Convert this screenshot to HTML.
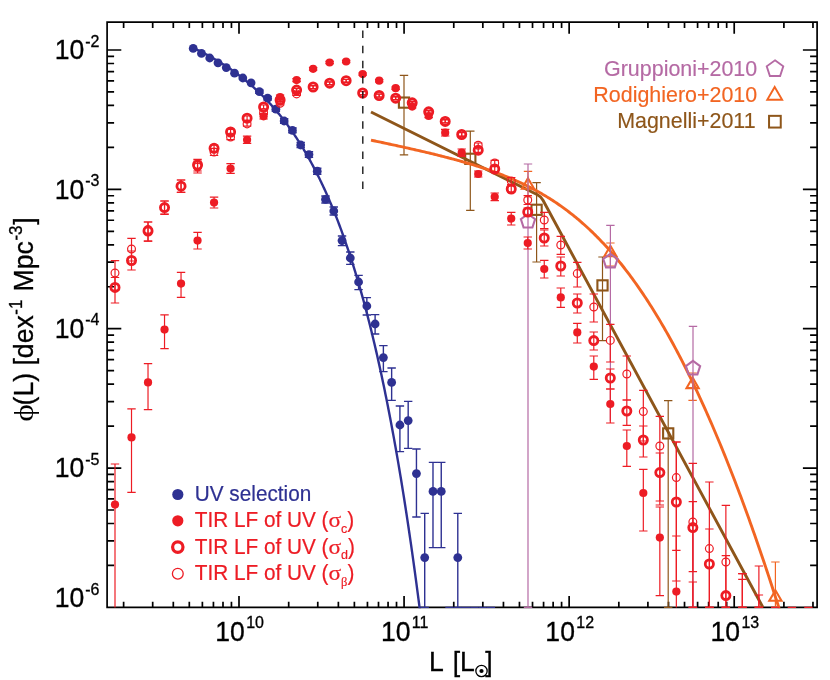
<!DOCTYPE html>
<html><head><meta charset="utf-8"><title>LF</title><style>html,body{margin:0;padding:0;background:#fff}body{width:830px;height:680px;overflow:hidden}</style></head><body>
<svg width="830" height="680" viewBox="0 0 830 680" style="display:block;will-change:transform;font-family:'Liberation Sans',sans-serif">
<rect width="830" height="680" fill="#fff"/>
<defs><clipPath id="c"><rect x="107.1" y="22.2" width="710.0" height="585.9499999999999"/></clipPath></defs>
<path d="M107.1 22.2H817.1V607.4H107.1Z" fill="none" stroke="#000" stroke-width="1.7"/>
<path d="M123.62 22.2v5.7M123.62 607.4v-5.7M152.69 22.2v5.7M152.69 607.4v-5.7M173.31 22.2v5.7M173.31 607.4v-5.7M189.31 22.2v5.7M189.31 607.4v-5.7M202.38 22.2v5.7M202.38 607.4v-5.7M213.43 22.2v5.7M213.43 607.4v-5.7M223.00 22.2v5.7M223.00 607.4v-5.7M231.45 22.2v5.7M231.45 607.4v-5.7M239.00 22.2v11.5M239.00 607.4v-11.5M288.69 22.2v5.7M288.69 607.4v-5.7M317.76 22.2v5.7M317.76 607.4v-5.7M338.38 22.2v5.7M338.38 607.4v-5.7M354.38 22.2v5.7M354.38 607.4v-5.7M367.45 22.2v5.7M367.45 607.4v-5.7M378.50 22.2v5.7M378.50 607.4v-5.7M388.07 22.2v5.7M388.07 607.4v-5.7M396.52 22.2v5.7M396.52 607.4v-5.7M404.07 22.2v11.5M404.07 607.4v-11.5M453.76 22.2v5.7M453.76 607.4v-5.7M482.83 22.2v5.7M482.83 607.4v-5.7M503.45 22.2v5.7M503.45 607.4v-5.7M519.45 22.2v5.7M519.45 607.4v-5.7M532.52 22.2v5.7M532.52 607.4v-5.7M543.57 22.2v5.7M543.57 607.4v-5.7M553.14 22.2v5.7M553.14 607.4v-5.7M561.59 22.2v5.7M561.59 607.4v-5.7M569.14 22.2v11.5M569.14 607.4v-11.5M618.83 22.2v5.7M618.83 607.4v-5.7M647.90 22.2v5.7M647.90 607.4v-5.7M668.52 22.2v5.7M668.52 607.4v-5.7M684.52 22.2v5.7M684.52 607.4v-5.7M697.59 22.2v5.7M697.59 607.4v-5.7M708.64 22.2v5.7M708.64 607.4v-5.7M718.21 22.2v5.7M718.21 607.4v-5.7M726.66 22.2v5.7M726.66 607.4v-5.7M734.21 22.2v11.5M734.21 607.4v-11.5M783.90 22.2v5.7M783.90 607.4v-5.7M812.97 22.2v5.7M812.97 607.4v-5.7M107.1 565.45h7.0M817.1 565.45h-7.0M107.1 540.91h7.0M817.1 540.91h-7.0M107.1 523.50h7.0M817.1 523.50h-7.0M107.1 510.00h7.0M817.1 510.00h-7.0M107.1 498.96h7.0M817.1 498.96h-7.0M107.1 489.64h7.0M817.1 489.64h-7.0M107.1 481.55h7.0M817.1 481.55h-7.0M107.1 474.43h7.0M817.1 474.43h-7.0M107.1 468.05h14.2M817.1 468.05h-14.2M107.1 426.10h7.0M817.1 426.10h-7.0M107.1 401.56h7.0M817.1 401.56h-7.0M107.1 384.15h7.0M817.1 384.15h-7.0M107.1 370.65h7.0M817.1 370.65h-7.0M107.1 359.61h7.0M817.1 359.61h-7.0M107.1 350.29h7.0M817.1 350.29h-7.0M107.1 342.20h7.0M817.1 342.20h-7.0M107.1 335.08h7.0M817.1 335.08h-7.0M107.1 328.70h14.2M817.1 328.70h-14.2M107.1 286.75h7.0M817.1 286.75h-7.0M107.1 262.21h7.0M817.1 262.21h-7.0M107.1 244.80h7.0M817.1 244.80h-7.0M107.1 231.30h7.0M817.1 231.30h-7.0M107.1 220.26h7.0M817.1 220.26h-7.0M107.1 210.94h7.0M817.1 210.94h-7.0M107.1 202.85h7.0M817.1 202.85h-7.0M107.1 195.73h7.0M817.1 195.73h-7.0M107.1 189.35h14.2M817.1 189.35h-14.2M107.1 147.40h7.0M817.1 147.40h-7.0M107.1 122.86h7.0M817.1 122.86h-7.0M107.1 105.45h7.0M817.1 105.45h-7.0M107.1 91.95h7.0M817.1 91.95h-7.0M107.1 80.91h7.0M817.1 80.91h-7.0M107.1 71.59h7.0M817.1 71.59h-7.0M107.1 63.50h7.0M817.1 63.50h-7.0M107.1 56.38h7.0M817.1 56.38h-7.0M107.1 50.00h14.2M817.1 50.00h-14.2" stroke="#000" stroke-width="1.7" fill="none"/>
<g clip-path="url(#c)">
<path d="M259.35 90.00V93.20M255.15 90.00H263.55M255.15 93.20H263.55" stroke="#2e3192" stroke-width="1.4" fill="none"/>
<path d="M267.62 96.40V100.00M263.42 96.40H271.82M263.42 100.00H271.82" stroke="#2e3192" stroke-width="1.4" fill="none"/>
<path d="M275.88 107.20V111.20M271.69 107.20H280.08M271.69 111.20H280.08" stroke="#2e3192" stroke-width="1.4" fill="none"/>
<path d="M284.15 118.80V123.20M279.95 118.80H288.35M279.95 123.20H288.35" stroke="#2e3192" stroke-width="1.4" fill="none"/>
<path d="M292.42 128.00V132.80M288.22 128.00H296.62M288.22 132.80H296.62" stroke="#2e3192" stroke-width="1.4" fill="none"/>
<path d="M300.69 142.40V147.60M296.49 142.40H304.89M296.49 147.60H304.89" stroke="#2e3192" stroke-width="1.4" fill="none"/>
<path d="M308.96 151.80V157.40M304.76 151.80H313.16M304.76 157.40H313.16" stroke="#2e3192" stroke-width="1.4" fill="none"/>
<path d="M317.23 168.20V174.20M313.03 168.20H321.43M313.03 174.20H321.43" stroke="#2e3192" stroke-width="1.4" fill="none"/>
<path d="M325.50 196.00V203.00M321.30 196.00H329.70M321.30 203.00H329.70" stroke="#2e3192" stroke-width="1.4" fill="none"/>
<path d="M333.76 207.00V215.00M329.56 207.00H337.96M329.56 215.00H337.96" stroke="#2e3192" stroke-width="1.4" fill="none"/>
<path d="M342.03 236.00V245.60M337.83 236.00H346.23M337.83 245.60H346.23" stroke="#2e3192" stroke-width="1.4" fill="none"/>
<path d="M350.30 252.00V264.40M346.10 252.00H354.50M346.10 264.40H354.50" stroke="#2e3192" stroke-width="1.4" fill="none"/>
<path d="M358.57 275.40V289.60M354.37 275.40H362.77M354.37 289.60H362.77" stroke="#2e3192" stroke-width="1.4" fill="none"/>
<path d="M366.84 297.60V315.00M362.64 297.60H371.04M362.64 315.00H371.04" stroke="#2e3192" stroke-width="1.4" fill="none"/>
<path d="M375.11 314.60V334.00M370.91 314.60H379.31M370.91 334.00H379.31" stroke="#2e3192" stroke-width="1.4" fill="none"/>
<path d="M383.38 345.60V371.60M379.18 345.60H387.58M379.18 371.60H387.58" stroke="#2e3192" stroke-width="1.4" fill="none"/>
<path d="M391.64 368.00V400.40M387.44 368.00H395.84M387.44 400.40H395.84" stroke="#2e3192" stroke-width="1.4" fill="none"/>
<path d="M399.91 406.00V451.60M395.71 406.00H404.11M395.71 451.60H404.11" stroke="#2e3192" stroke-width="1.4" fill="none"/>
<path d="M408.18 401.40V448.40M403.98 401.40H412.38M403.98 448.40H412.38" stroke="#2e3192" stroke-width="1.4" fill="none"/>
<path d="M416.45 449.00V517.00M412.25 449.00H420.65M412.25 517.00H420.65" stroke="#2e3192" stroke-width="1.4" fill="none"/>
<path d="M424.72 513.40V607.40M420.52 513.40H428.92M420.52 607.40H428.92" stroke="#2e3192" stroke-width="1.4" fill="none"/>
<path d="M432.99 462.40V547.60M428.79 462.40H437.19M428.79 547.60H437.19" stroke="#2e3192" stroke-width="1.4" fill="none"/>
<path d="M441.25 462.40V547.60M437.06 462.40H445.45M437.06 547.60H445.45" stroke="#2e3192" stroke-width="1.4" fill="none"/>
<path d="M449.52 607.40V607.40M445.32 607.40H453.72" stroke="#2e3192" stroke-width="1.4" fill="none"/>
<path d="M457.79 513.40V607.40M453.59 513.40H461.99M453.59 607.40H461.99" stroke="#2e3192" stroke-width="1.4" fill="none"/>
<path d="M466.06 607.40V607.40M461.86 607.40H470.26" stroke="#2e3192" stroke-width="1.4" fill="none"/>
<path d="M474.33 607.40V607.40M470.13 607.40H478.53" stroke="#2e3192" stroke-width="1.4" fill="none"/>
<path d="M482.60 607.40V607.40M478.40 607.40H486.80" stroke="#2e3192" stroke-width="1.4" fill="none"/>
<path d="M490.87 607.40V607.40M486.67 607.40H495.07" stroke="#2e3192" stroke-width="1.4" fill="none"/>
<circle cx="193.20" cy="48.4" r="4.4" fill="#2e3192"/>
<circle cx="201.47" cy="53.4" r="4.4" fill="#2e3192"/>
<circle cx="209.74" cy="58" r="4.4" fill="#2e3192"/>
<circle cx="218.01" cy="62.8" r="4.4" fill="#2e3192"/>
<circle cx="226.27" cy="67.6" r="4.4" fill="#2e3192"/>
<circle cx="234.54" cy="73.2" r="4.4" fill="#2e3192"/>
<circle cx="242.81" cy="78" r="4.4" fill="#2e3192"/>
<circle cx="251.08" cy="82.8" r="4.4" fill="#2e3192"/>
<circle cx="259.35" cy="91.6" r="4.4" fill="#2e3192"/>
<circle cx="267.62" cy="98.2" r="4.4" fill="#2e3192"/>
<circle cx="275.88" cy="109.2" r="4.4" fill="#2e3192"/>
<circle cx="284.15" cy="121" r="4.4" fill="#2e3192"/>
<circle cx="292.42" cy="130.4" r="4.4" fill="#2e3192"/>
<circle cx="300.69" cy="145" r="4.4" fill="#2e3192"/>
<circle cx="308.96" cy="154.6" r="4.4" fill="#2e3192"/>
<circle cx="317.23" cy="171.2" r="4.4" fill="#2e3192"/>
<circle cx="325.50" cy="199.4" r="4.4" fill="#2e3192"/>
<circle cx="333.76" cy="211" r="4.4" fill="#2e3192"/>
<circle cx="342.03" cy="240.6" r="4.4" fill="#2e3192"/>
<circle cx="350.30" cy="258" r="4.4" fill="#2e3192"/>
<circle cx="358.57" cy="282" r="4.4" fill="#2e3192"/>
<circle cx="366.84" cy="306" r="4.4" fill="#2e3192"/>
<circle cx="375.11" cy="324" r="4.4" fill="#2e3192"/>
<circle cx="383.38" cy="357.6" r="4.4" fill="#2e3192"/>
<circle cx="391.64" cy="382.4" r="4.4" fill="#2e3192"/>
<circle cx="399.91" cy="425" r="4.4" fill="#2e3192"/>
<circle cx="408.18" cy="420.6" r="4.4" fill="#2e3192"/>
<circle cx="416.45" cy="473.6" r="4.4" fill="#2e3192"/>
<circle cx="424.72" cy="557.6" r="4.4" fill="#2e3192"/>
<circle cx="432.99" cy="491.4" r="4.4" fill="#2e3192"/>
<circle cx="441.25" cy="491.4" r="4.4" fill="#2e3192"/>
<circle cx="457.79" cy="557.6" r="4.4" fill="#2e3192"/>
<path d="M193.20 47.93 L193.98 48.29 L194.75 48.65 L195.53 49.02 L196.30 49.39 L197.08 49.77 L197.85 50.14 L198.63 50.52 L199.40 50.90 L200.18 51.29 L200.95 51.68 L201.73 52.07 L202.50 52.46 L203.28 52.86 L204.05 53.26 L204.83 53.67 L205.60 54.07 L206.38 54.48 L207.15 54.90 L207.93 55.31 L208.71 55.73 L209.48 56.16 L210.26 56.59 L211.03 57.02 L211.81 57.45 L212.58 57.89 L213.36 58.33 L214.13 58.78 L214.91 59.22 L215.68 59.68 L216.46 60.13 L217.23 60.59 L218.01 61.06 L218.78 61.53 L219.56 62.00 L220.33 62.47 L221.11 62.95 L221.88 63.44 L222.66 63.93 L223.43 64.42 L224.21 64.91 L224.99 65.41 L225.76 65.92 L226.54 66.43 L227.31 66.94 L228.09 67.46 L228.86 67.98 L229.64 68.51 L230.41 69.04 L231.19 69.58 L231.96 70.12 L232.74 70.66 L233.51 71.22 L234.29 71.77 L235.06 72.33 L235.84 72.90 L236.61 73.47 L237.39 74.04 L238.16 74.62 L238.94 75.21 L239.72 75.80 L240.49 76.39 L241.27 76.99 L242.04 77.60 L242.82 78.21 L243.59 78.83 L244.37 79.45 L245.14 80.08 L245.92 80.72 L246.69 81.36 L247.47 82.00 L248.24 82.65 L249.02 83.31 L249.79 83.97 L250.57 84.64 L251.34 85.32 L252.12 86.00 L252.89 86.69 L253.67 87.38 L254.44 88.08 L255.22 88.79 L256.00 89.51 L256.77 90.23 L257.55 90.95 L258.32 91.69 L259.10 92.43 L259.87 93.18 L260.65 93.93 L261.42 94.69 L262.20 95.46 L262.97 96.24 L263.75 97.02 L264.52 97.81 L265.30 98.61 L266.07 99.41 L266.85 100.23 L267.62 101.05 L268.40 101.88 L269.17 102.71 L269.95 103.56 L270.73 104.41 L271.50 105.27 L272.28 106.14 L273.05 107.02 L273.83 107.90 L274.60 108.80 L275.38 109.70 L276.15 110.61 L276.93 111.53 L277.70 112.46 L278.48 113.39 L279.25 114.34 L280.03 115.30 L280.80 116.26 L281.58 117.24 L282.35 118.22 L283.13 119.21 L283.90 120.21 L284.68 121.23 L285.45 122.25 L286.23 123.28 L287.01 124.32 L287.78 125.38 L288.56 126.44 L289.33 127.51 L290.11 128.60 L290.88 129.69 L291.66 130.80 L292.43 131.91 L293.21 133.04 L293.98 134.18 L294.76 135.33 L295.53 136.49 L296.31 137.66 L297.08 138.84 L297.86 140.04 L298.63 141.24 L299.41 142.46 L300.18 143.69 L300.96 144.94 L301.74 146.19 L302.51 147.46 L303.29 148.74 L304.06 150.03 L304.84 151.34 L305.61 152.66 L306.39 153.99 L307.16 155.34 L307.94 156.70 L308.71 158.07 L309.49 159.46 L310.26 160.86 L311.04 162.27 L311.81 163.70 L312.59 165.14 L313.36 166.60 L314.14 168.07 L314.91 169.56 L315.69 171.06 L316.46 172.58 L317.24 174.11 L318.02 175.66 L318.79 177.23 L319.57 178.81 L320.34 180.40 L321.12 182.01 L321.89 183.64 L322.67 185.29 L323.44 186.95 L324.22 188.63 L324.99 190.32 L325.77 192.03 L326.54 193.76 L327.32 195.51 L328.09 197.28 L328.87 199.06 L329.64 200.86 L330.42 202.68 L331.19 204.52 L331.97 206.38 L332.75 208.25 L333.52 210.15 L334.30 212.07 L335.07 214.00 L335.85 215.96 L336.62 217.93 L337.40 219.92 L338.17 221.94 L338.95 223.98 L339.72 226.03 L340.50 228.11 L341.27 230.21 L342.05 232.33 L342.82 234.48 L343.60 236.64 L344.37 238.83 L345.15 241.04 L345.92 243.27 L346.70 245.53 L347.47 247.81 L348.25 250.11 L349.03 252.44 L349.80 254.79 L350.58 257.17 L351.35 259.57 L352.13 261.99 L352.90 264.44 L353.68 266.92 L354.45 269.42 L355.23 271.95 L356.00 274.50 L356.78 277.08 L357.55 279.69 L358.33 282.32 L359.10 284.98 L359.88 287.67 L360.65 290.39 L361.43 293.14 L362.20 295.91 L362.98 298.72 L363.76 301.55 L364.53 304.41 L365.31 307.30 L366.08 310.23 L366.86 313.18 L367.63 316.16 L368.41 319.18 L369.18 322.22 L369.96 325.30 L370.73 328.41 L371.51 331.56 L372.28 334.73 L373.06 337.94 L373.83 341.19 L374.61 344.47 L375.38 347.78 L376.16 351.13 L376.93 354.51 L377.71 357.93 L378.48 361.38 L379.26 364.87 L380.04 368.40 L380.81 371.96 L381.59 375.56 L382.36 379.20 L383.14 382.88 L383.91 386.59 L384.69 390.35 L385.46 394.14 L386.24 397.98 L387.01 401.86 L387.79 405.77 L388.56 409.73 L389.34 413.73 L390.11 417.77 L390.89 421.86 L391.66 425.98 L392.44 430.16 L393.21 434.37 L393.99 438.63 L394.77 442.94 L395.54 447.29 L396.32 451.69 L397.09 456.13 L397.87 460.62 L398.64 465.16 L399.42 469.75 L400.19 474.38 L400.97 479.06 L401.74 483.80 L402.52 488.58 L403.29 493.42 L404.07 498.30 L404.84 503.24 L405.62 508.23 L406.39 513.28 L407.17 518.37 L407.94 523.52 L408.72 528.73 L409.49 533.99 L410.27 539.31 L411.05 544.68 L411.82 550.11 L412.60 555.60 L413.37 561.15 L414.15 566.76 L414.92 572.42 L415.70 578.15 L416.47 583.94 L417.25 589.79 L418.02 595.70 L418.80 601.67 L419.57 607.71 L420.35 613.81 L421.12 619.98 L421.90 626.21 L422.67 632.51" fill="none" stroke="#2e3192" stroke-width="2.4" stroke-linejoin="round"/>
<path d="M371 112 L537.5 194.8 Q541 196.6 543 200.2 L763 607.5" fill="none" stroke="#8e561a" stroke-width="2.9" stroke-linejoin="round"/>
<path d="M404.00 75.30V154.80M399.80 75.30H408.20M399.80 154.80H408.20" stroke="#8e561a" stroke-width="1.2" fill="none"/>
<rect x="398.90" y="97.50" width="10.2" height="10.2" fill="none" stroke="#8e561a" stroke-width="2.1"/>
<path d="M470.30 131.20V210.40M466.10 131.20H474.50M466.10 210.40H474.50" stroke="#8e561a" stroke-width="1.2" fill="none"/>
<rect x="465.20" y="153.70" width="10.2" height="10.2" fill="none" stroke="#8e561a" stroke-width="2.1"/>
<path d="M536.60 182.60V262.00M532.40 182.60H540.80M532.40 262.00H540.80" stroke="#8e561a" stroke-width="1.2" fill="none"/>
<rect x="531.50" y="204.70" width="10.2" height="10.2" fill="none" stroke="#8e561a" stroke-width="2.1"/>
<path d="M602.50 257.00V340.60M598.30 257.00H606.70M598.30 340.60H606.70" stroke="#8e561a" stroke-width="1.2" fill="none"/>
<rect x="597.40" y="280.30" width="10.2" height="10.2" fill="none" stroke="#8e561a" stroke-width="2.1"/>
<path d="M668.20 400.60V607.40M664.00 400.60H672.40M664.00 607.40H672.40" stroke="#8e561a" stroke-width="1.2" fill="none"/>
<rect x="663.10" y="428.30" width="10.2" height="10.2" fill="none" stroke="#8e561a" stroke-width="2.1"/>
<path d="M371.00 140.17 L372.37 140.46 L373.75 140.75 L375.12 141.04 L376.50 141.33 L377.87 141.62 L379.25 141.91 L380.62 142.20 L382.00 142.49 L383.37 142.79 L384.75 143.08 L386.12 143.37 L387.49 143.67 L388.87 143.96 L390.24 144.26 L391.62 144.55 L392.99 144.85 L394.37 145.15 L395.74 145.45 L397.12 145.75 L398.49 146.05 L399.87 146.35 L401.24 146.65 L402.62 146.95 L403.99 147.26 L405.36 147.56 L406.74 147.87 L408.11 148.18 L409.49 148.49 L410.86 148.80 L412.24 149.11 L413.61 149.42 L414.99 149.73 L416.36 150.05 L417.74 150.36 L419.11 150.68 L420.48 151.00 L421.86 151.32 L423.23 151.64 L424.61 151.96 L425.98 152.29 L427.36 152.62 L428.73 152.94 L430.11 153.27 L431.48 153.61 L432.86 153.94 L434.23 154.28 L435.61 154.61 L436.98 154.95 L438.35 155.30 L439.73 155.64 L441.10 155.99 L442.48 156.33 L443.85 156.68 L445.23 157.04 L446.60 157.39 L447.98 157.75 L449.35 158.11 L450.73 158.48 L452.10 158.84 L453.47 159.21 L454.85 159.58 L456.22 159.96 L457.60 160.34 L458.97 160.72 L460.35 161.10 L461.72 161.49 L463.10 161.88 L464.47 162.28 L465.85 162.68 L467.22 163.08 L468.60 163.49 L469.97 163.90 L471.34 164.31 L472.72 164.73 L474.09 165.15 L475.47 165.58 L476.84 166.01 L478.22 166.44 L479.59 166.89 L480.97 167.33 L482.34 167.78 L483.72 168.23 L485.09 168.69 L486.46 169.16 L487.84 169.63 L489.21 170.11 L490.59 170.59 L491.96 171.08 L493.34 171.57 L494.71 172.07 L496.09 172.57 L497.46 173.08 L498.84 173.60 L500.21 174.13 L501.59 174.66 L502.96 175.19 L504.33 175.74 L505.71 176.29 L507.08 176.85 L508.46 177.42 L509.83 177.99 L511.21 178.57 L512.58 179.16 L513.96 179.76 L515.33 180.36 L516.71 180.97 L518.08 181.60 L519.45 182.23 L520.83 182.86 L522.20 183.51 L523.58 184.17 L524.95 184.84 L526.33 185.51 L527.70 186.20 L529.08 186.89 L530.45 187.59 L531.83 188.31 L533.20 189.03 L534.58 189.77 L535.95 190.51 L537.32 191.27 L538.70 192.04 L540.07 192.81 L541.45 193.60 L542.82 194.40 L544.20 195.21 L545.57 196.04 L546.95 196.87 L548.32 197.72 L549.70 198.58 L551.07 199.45 L552.44 200.33 L553.82 201.23 L555.19 202.14 L556.57 203.06 L557.94 204.00 L559.32 204.95 L560.69 205.91 L562.07 206.89 L563.44 207.88 L564.82 208.88 L566.19 209.90 L567.57 210.93 L568.94 211.98 L570.31 213.04 L571.69 214.12 L573.06 215.21 L574.44 216.32 L575.81 217.44 L577.19 218.58 L578.56 219.73 L579.94 220.90 L581.31 222.09 L582.69 223.29 L584.06 224.50 L585.43 225.74 L586.81 226.99 L588.18 228.25 L589.56 229.54 L590.93 230.84 L592.31 232.16 L593.68 233.49 L595.06 234.85 L596.43 236.22 L597.81 237.60 L599.18 239.01 L600.56 240.43 L601.93 241.88 L603.30 243.34 L604.68 244.81 L606.05 246.31 L607.43 247.83 L608.80 249.36 L610.18 250.91 L611.55 252.49 L612.93 254.08 L614.30 255.69 L615.68 257.32 L617.05 258.97 L618.42 260.64 L619.80 262.33 L621.17 264.03 L622.55 265.76 L623.92 267.51 L625.30 269.28 L626.67 271.07 L628.05 272.88 L629.42 274.71 L630.80 276.56 L632.17 278.43 L633.55 280.32 L634.92 282.23 L636.29 284.16 L637.67 286.12 L639.04 288.09 L640.42 290.09 L641.79 292.10 L643.17 294.14 L644.54 296.20 L645.92 298.28 L647.29 300.39 L648.67 302.51 L650.04 304.66 L651.41 306.83 L652.79 309.02 L654.16 311.23 L655.54 313.46 L656.91 315.72 L658.29 317.99 L659.66 320.29 L661.04 322.62 L662.41 324.96 L663.79 327.33 L665.16 329.72 L666.54 332.13 L667.91 334.56 L669.28 337.02 L670.66 339.50 L672.03 342.00 L673.41 344.52 L674.78 347.07 L676.16 349.64 L677.53 352.23 L678.91 354.85 L680.28 357.48 L681.66 360.14 L683.03 362.83 L684.40 365.53 L685.78 368.26 L687.15 371.02 L688.53 373.79 L689.90 376.59 L691.28 379.41 L692.65 382.26 L694.03 385.13 L695.40 388.02 L696.78 390.94 L698.15 393.87 L699.53 396.83 L700.90 399.82 L702.27 402.83 L703.65 405.86 L705.02 408.91 L706.40 411.99 L707.77 415.09 L709.15 418.22 L710.52 421.37 L711.90 424.54 L713.27 427.74 L714.65 430.95 L716.02 434.20 L717.39 437.46 L718.77 440.75 L720.14 444.07 L721.52 447.40 L722.89 450.76 L724.27 454.15 L725.64 457.55 L727.02 460.98 L728.39 464.44 L729.77 467.92 L731.14 471.42 L732.52 474.94 L733.89 478.49 L735.26 482.07 L736.64 485.66 L738.01 489.28 L739.39 492.92 L740.76 496.59 L742.14 500.28 L743.51 504.00 L744.89 507.74 L746.26 511.50 L747.64 515.28 L749.01 519.09 L750.38 522.92 L751.76 526.78 L753.13 530.66 L754.51 534.56 L755.88 538.49 L757.26 542.44 L758.63 546.42 L760.01 550.41 L761.38 554.44 L762.76 558.48 L764.13 562.55 L765.51 566.64 L766.88 570.76 L768.25 574.90 L769.63 579.06 L771.00 583.25 L772.38 587.46 L773.75 591.70 L775.13 595.95 L776.50 600.24 L777.88 604.54 L779.25 608.87 L780.63 613.22 L782.00 617.60" fill="none" stroke="#f26522" stroke-width="2.9" stroke-linejoin="round"/>
<path d="M528.00 171.40V197.00M523.80 171.40H532.20M523.80 197.00H532.20" stroke="#f26522" stroke-width="1.2" fill="none"/>
<polygon points="528.00,178.16 534.10,188.72 521.90,188.72" fill="none" stroke="#f26522" stroke-width="2.1"/>
<path d="M610.40 243.00V266.00M606.20 243.00H614.60M606.20 266.00H614.60" stroke="#f26522" stroke-width="1.2" fill="none"/>
<polygon points="610.40,245.76 616.50,256.32 604.30,256.32" fill="none" stroke="#f26522" stroke-width="2.1"/>
<path d="M692.60 373.00V400.40M688.40 373.00H696.80M688.40 400.40H696.80" stroke="#f26522" stroke-width="1.2" fill="none"/>
<polygon points="692.60,377.56 698.70,388.12 686.50,388.12" fill="none" stroke="#f26522" stroke-width="2.1"/>
<path d="M775.40 562.00V607.40M771.20 562.00H779.60M771.20 607.40H779.60" stroke="#f26522" stroke-width="1.2" fill="none"/>
<polygon points="775.40,590.26 781.50,600.82 769.30,600.82" fill="none" stroke="#f26522" stroke-width="2.1"/>
<path d="M528.00 164.00V607.40M523.80 164.00H532.20M523.80 607.40H532.20" stroke="#b56aa4" stroke-width="1.2" fill="none"/>
<polygon points="528.00,214.00 535.13,219.18 532.41,227.57 523.59,227.57 520.87,219.18" fill="none" stroke="#b56aa4" stroke-width="2.1" stroke-linejoin="miter"/>
<path d="M610.40 225.30V421.00M606.20 225.30H614.60" stroke="#b56aa4" stroke-width="1.2" fill="none"/>
<polygon points="610.40,253.80 617.53,258.98 614.81,267.37 605.99,267.37 603.27,258.98" fill="none" stroke="#b56aa4" stroke-width="2.1" stroke-linejoin="miter"/>
<path d="M693.00 326.40V607.40M688.80 326.40H697.20M688.80 607.40H697.20" stroke="#b56aa4" stroke-width="1.2" fill="none"/>
<polygon points="693.00,360.90 700.13,366.08 697.41,374.47 688.59,374.47 685.87,366.08" fill="none" stroke="#b56aa4" stroke-width="2.1" stroke-linejoin="miter"/>
<path d="M115.00 464.00V607.40M110.80 464.00H119.20" stroke="#ed1c24" stroke-width="1.2" fill="none"/>
<path d="M131.51 408.80V492.40M127.31 408.80H135.71M127.31 492.40H135.71" stroke="#ed1c24" stroke-width="1.2" fill="none"/>
<path d="M148.02 363.60V409.60M143.82 363.60H152.22M143.82 409.60H152.22" stroke="#ed1c24" stroke-width="1.2" fill="none"/>
<path d="M164.53 314.80V348.60M160.33 314.80H168.73M160.33 348.60H168.73" stroke="#ed1c24" stroke-width="1.2" fill="none"/>
<path d="M181.04 272.40V297.40M176.84 272.40H185.24M176.84 297.40H185.24" stroke="#ed1c24" stroke-width="1.2" fill="none"/>
<path d="M197.55 232.40V249.00M193.35 232.40H201.75M193.35 249.00H201.75" stroke="#ed1c24" stroke-width="1.2" fill="none"/>
<path d="M214.06 197.20V208.00M209.86 197.20H218.26M209.86 208.00H218.26" stroke="#ed1c24" stroke-width="1.2" fill="none"/>
<path d="M230.57 163.60V173.40M226.37 163.60H234.77M226.37 173.40H234.77" stroke="#ed1c24" stroke-width="1.2" fill="none"/>
<path d="M247.08 136.20V143.40M242.88 136.20H251.28M242.88 143.40H251.28" stroke="#ed1c24" stroke-width="1.2" fill="none"/>
<path d="M263.59 113.60V119.00M259.39 113.60H267.79M259.39 119.00H267.79" stroke="#ed1c24" stroke-width="1.2" fill="none"/>
<path d="M280.10 95.00V99.00M275.90 95.00H284.30M275.90 99.00H284.30" stroke="#ed1c24" stroke-width="1.2" fill="none"/>
<path d="M296.61 78.50V81.70M292.41 78.50H300.81M292.41 81.70H300.81" stroke="#ed1c24" stroke-width="1.2" fill="none"/>
<path d="M313.12 67.50V70.10M308.92 67.50H317.32M308.92 70.10H317.32" stroke="#ed1c24" stroke-width="1.2" fill="none"/>
<path d="M329.63 61.30V63.70M325.43 61.30H333.83M325.43 63.70H333.83" stroke="#ed1c24" stroke-width="1.2" fill="none"/>
<path d="M346.14 60.30V62.70M341.94 60.30H350.34M341.94 62.70H350.34" stroke="#ed1c24" stroke-width="1.2" fill="none"/>
<path d="M362.65 73.00V75.20M358.45 73.00H366.85M358.45 75.20H366.85" stroke="#ed1c24" stroke-width="1.2" fill="none"/>
<path d="M379.16 79.50V81.90M374.96 79.50H383.36M374.96 81.90H383.36" stroke="#ed1c24" stroke-width="1.2" fill="none"/>
<path d="M395.67 87.00V89.40M391.47 87.00H399.87M391.47 89.40H399.87" stroke="#ed1c24" stroke-width="1.2" fill="none"/>
<path d="M412.18 105.20V108.00M407.98 105.20H416.38M407.98 108.00H416.38" stroke="#ed1c24" stroke-width="1.2" fill="none"/>
<path d="M428.69 114.40V117.60M424.49 114.40H432.89M424.49 117.60H432.89" stroke="#ed1c24" stroke-width="1.2" fill="none"/>
<path d="M445.20 129.40V136.00M441.00 129.40H449.40M441.00 136.00H449.40" stroke="#ed1c24" stroke-width="1.2" fill="none"/>
<path d="M461.71 149.00V156.40M457.51 149.00H465.91M457.51 156.40H465.91" stroke="#ed1c24" stroke-width="1.2" fill="none"/>
<path d="M478.22 171.00V177.00M474.02 171.00H482.42M474.02 177.00H482.42" stroke="#ed1c24" stroke-width="1.2" fill="none"/>
<path d="M494.73 193.00V200.60M490.53 193.00H498.93M490.53 200.60H498.93" stroke="#ed1c24" stroke-width="1.2" fill="none"/>
<path d="M511.24 212.40V225.00M507.04 212.40H515.44M507.04 225.00H515.44" stroke="#ed1c24" stroke-width="1.2" fill="none"/>
<path d="M527.75 237.00V249.00M523.55 237.00H531.95M523.55 249.00H531.95" stroke="#ed1c24" stroke-width="1.2" fill="none"/>
<path d="M544.26 260.40V278.00M540.06 260.40H548.46M540.06 278.00H548.46" stroke="#ed1c24" stroke-width="1.2" fill="none"/>
<path d="M560.77 288.00V307.40M556.57 288.00H564.97M556.57 307.40H564.97" stroke="#ed1c24" stroke-width="1.2" fill="none"/>
<path d="M577.28 323.40V343.00M573.08 323.40H581.48M573.08 343.00H581.48" stroke="#ed1c24" stroke-width="1.2" fill="none"/>
<path d="M593.79 356.00V379.40M589.59 356.00H597.99M589.59 379.40H597.99" stroke="#ed1c24" stroke-width="1.2" fill="none"/>
<path d="M610.30 389.00V423.00M606.10 389.00H614.50M606.10 423.00H614.50" stroke="#ed1c24" stroke-width="1.2" fill="none"/>
<path d="M626.81 430.00V466.40M622.61 430.00H631.01M622.61 466.40H631.01" stroke="#ed1c24" stroke-width="1.2" fill="none"/>
<path d="M643.32 469.40V531.00M639.12 469.40H647.52M639.12 531.00H647.52" stroke="#ed1c24" stroke-width="1.2" fill="none"/>
<path d="M659.83 507.00V595.60M655.63 507.00H664.03M655.63 595.60H664.03" stroke="#ed1c24" stroke-width="1.2" fill="none"/>
<path d="M676.34 536.00V607.40M672.14 536.00H680.54" stroke="#ed1c24" stroke-width="1.2" fill="none"/>
<path d="M692.85 582.00V607.40M688.65 582.00H697.05M688.65 607.40H697.05" stroke="#ed1c24" stroke-width="1.2" fill="none"/>
<path d="M709.36 607.40V607.40M705.16 607.40H713.56" stroke="#ed1c24" stroke-width="1.2" fill="none"/>
<path d="M725.87 607.40V607.40M721.67 607.40H730.07" stroke="#ed1c24" stroke-width="1.2" fill="none"/>
<path d="M742.38 573.60V607.40M738.18 573.60H746.58M738.18 607.40H746.58" stroke="#ed1c24" stroke-width="1.2" fill="none"/>
<path d="M758.89 595.00V607.40M754.69 595.00H763.09M754.69 607.40H763.09" stroke="#ed1c24" stroke-width="1.2" fill="none"/>
<path d="M775.40 607.40V607.40M771.20 607.40H779.60" stroke="#ed1c24" stroke-width="1.2" fill="none"/>
<path d="M791.91 607.40V607.40M787.71 607.40H796.11" stroke="#ed1c24" stroke-width="1.2" fill="none"/>
<path d="M808.42 607.40V607.40M804.22 607.40H812.62" stroke="#ed1c24" stroke-width="1.2" fill="none"/>
<path d="M115.00 277.50V303.00M110.80 277.50H119.20M110.80 303.00H119.20" stroke="#ed1c24" stroke-width="1.2" fill="none"/>
<path d="M131.51 251.00V270.00M127.31 251.00H135.71M127.31 270.00H135.71" stroke="#ed1c24" stroke-width="1.2" fill="none"/>
<path d="M148.02 222.00V241.20M143.82 222.00H152.22M143.82 241.20H152.22" stroke="#ed1c24" stroke-width="1.2" fill="none"/>
<path d="M164.53 201.00V214.40M160.33 201.00H168.73M160.33 214.40H168.73" stroke="#ed1c24" stroke-width="1.2" fill="none"/>
<path d="M181.04 180.00V192.40M176.84 180.00H185.24M176.84 192.40H185.24" stroke="#ed1c24" stroke-width="1.2" fill="none"/>
<path d="M197.55 159.40V171.00M193.35 159.40H201.75M193.35 171.00H201.75" stroke="#ed1c24" stroke-width="1.2" fill="none"/>
<path d="M214.06 145.00V151.60M209.86 145.00H218.26M209.86 151.60H218.26" stroke="#ed1c24" stroke-width="1.2" fill="none"/>
<path d="M230.57 129.50V134.50M226.37 129.50H234.77M226.37 134.50H234.77" stroke="#ed1c24" stroke-width="1.2" fill="none"/>
<path d="M247.08 116.00V120.40M242.88 116.00H251.28M242.88 120.40H251.28" stroke="#ed1c24" stroke-width="1.2" fill="none"/>
<path d="M263.59 105.00V109.00M259.39 105.00H267.79M259.39 109.00H267.79" stroke="#ed1c24" stroke-width="1.2" fill="none"/>
<path d="M280.10 98.20V101.80M275.90 98.20H284.30M275.90 101.80H284.30" stroke="#ed1c24" stroke-width="1.2" fill="none"/>
<path d="M296.61 88.50V91.70M292.41 88.50H300.81M292.41 91.70H300.81" stroke="#ed1c24" stroke-width="1.2" fill="none"/>
<path d="M313.12 85.50V88.50M308.92 85.50H317.32M308.92 88.50H317.32" stroke="#ed1c24" stroke-width="1.2" fill="none"/>
<path d="M329.63 81.80V84.60M325.43 81.80H333.83M325.43 84.60H333.83" stroke="#ed1c24" stroke-width="1.2" fill="none"/>
<path d="M346.14 79.30V82.10M341.94 79.30H350.34M341.94 82.10H350.34" stroke="#ed1c24" stroke-width="1.2" fill="none"/>
<path d="M362.65 91.50V94.50M358.45 91.50H366.85M358.45 94.50H366.85" stroke="#ed1c24" stroke-width="1.2" fill="none"/>
<path d="M379.16 94.00V97.00M374.96 94.00H383.36M374.96 97.00H383.36" stroke="#ed1c24" stroke-width="1.2" fill="none"/>
<path d="M395.67 96.70V99.70M391.47 96.70H399.87M391.47 99.70H399.87" stroke="#ed1c24" stroke-width="1.2" fill="none"/>
<path d="M412.18 101.30V104.30M407.98 101.30H416.38M407.98 104.30H416.38" stroke="#ed1c24" stroke-width="1.2" fill="none"/>
<path d="M428.69 110.30V113.30M424.49 110.30H432.89M424.49 113.30H432.89" stroke="#ed1c24" stroke-width="1.2" fill="none"/>
<path d="M445.20 119.80V123.00M441.00 119.80H449.40M441.00 123.00H449.40" stroke="#ed1c24" stroke-width="1.2" fill="none"/>
<path d="M461.71 132.70V136.30M457.51 132.70H465.91M457.51 136.30H465.91" stroke="#ed1c24" stroke-width="1.2" fill="none"/>
<path d="M478.22 148.00V152.40M474.02 148.00H482.42M474.02 152.40H482.42" stroke="#ed1c24" stroke-width="1.2" fill="none"/>
<path d="M494.73 166.50V171.50M490.53 166.50H498.93M490.53 171.50H498.93" stroke="#ed1c24" stroke-width="1.2" fill="none"/>
<path d="M511.24 186.00V192.00M507.04 186.00H515.44M507.04 192.00H515.44" stroke="#ed1c24" stroke-width="1.2" fill="none"/>
<path d="M527.75 208.00V216.00M523.55 208.00H531.95M523.55 216.00H531.95" stroke="#ed1c24" stroke-width="1.2" fill="none"/>
<path d="M544.26 230.00V246.00M540.06 230.00H548.46M540.06 246.00H548.46" stroke="#ed1c24" stroke-width="1.2" fill="none"/>
<path d="M560.77 257.00V276.00M556.57 257.00H564.97M556.57 276.00H564.97" stroke="#ed1c24" stroke-width="1.2" fill="none"/>
<path d="M577.28 294.00V313.00M573.08 294.00H581.48M573.08 313.00H581.48" stroke="#ed1c24" stroke-width="1.2" fill="none"/>
<path d="M593.79 332.00V350.00M589.59 332.00H597.99M589.59 350.00H597.99" stroke="#ed1c24" stroke-width="1.2" fill="none"/>
<path d="M610.30 369.00V389.00M606.10 369.00H614.50M606.10 389.00H614.50" stroke="#ed1c24" stroke-width="1.2" fill="none"/>
<path d="M626.81 400.00V425.40M622.61 400.00H631.01M622.61 425.40H631.01" stroke="#ed1c24" stroke-width="1.2" fill="none"/>
<path d="M643.32 426.00V457.00M639.12 426.00H647.52M639.12 457.00H647.52" stroke="#ed1c24" stroke-width="1.2" fill="none"/>
<path d="M659.83 453.00V505.00M655.63 453.00H664.03M655.63 505.00H664.03" stroke="#ed1c24" stroke-width="1.2" fill="none"/>
<path d="M676.34 442.00V550.40M672.14 442.00H680.54M672.14 550.40H680.54" stroke="#ed1c24" stroke-width="1.2" fill="none"/>
<path d="M692.85 501.60V607.40M688.65 501.60H697.05M688.65 607.40H697.05" stroke="#ed1c24" stroke-width="1.2" fill="none"/>
<path d="M709.36 529.00V607.40M705.16 529.00H713.56M705.16 607.40H713.56" stroke="#ed1c24" stroke-width="1.2" fill="none"/>
<path d="M725.87 555.60V607.40M721.67 555.60H730.07M721.67 607.40H730.07" stroke="#ed1c24" stroke-width="1.2" fill="none"/>
<path d="M742.38 579.40V607.40M738.18 579.40H746.58M738.18 607.40H746.58" stroke="#ed1c24" stroke-width="1.2" fill="none"/>
<path d="M758.89 607.40V607.40M754.69 607.40H763.09" stroke="#ed1c24" stroke-width="1.2" fill="none"/>
<path d="M115.00 260.60V290.00M110.80 260.60H119.20M110.80 290.00H119.20" stroke="#ed1c24" stroke-width="1.2" fill="none"/>
<path d="M131.51 238.40V261.00M127.31 238.40H135.71M127.31 261.00H135.71" stroke="#ed1c24" stroke-width="1.2" fill="none"/>
<path d="M148.02 222.00V241.20M143.82 222.00H152.22M143.82 241.20H152.22" stroke="#ed1c24" stroke-width="1.2" fill="none"/>
<path d="M164.53 201.00V214.00M160.33 201.00H168.73M160.33 214.00H168.73" stroke="#ed1c24" stroke-width="1.2" fill="none"/>
<path d="M181.04 180.00V192.40M176.84 180.00H185.24M176.84 192.40H185.24" stroke="#ed1c24" stroke-width="1.2" fill="none"/>
<path d="M197.55 161.00V173.00M193.35 161.00H201.75M193.35 173.00H201.75" stroke="#ed1c24" stroke-width="1.2" fill="none"/>
<path d="M214.06 148.50V155.50M209.86 148.50H218.26M209.86 155.50H218.26" stroke="#ed1c24" stroke-width="1.2" fill="none"/>
<path d="M230.57 134.30V139.70M226.37 134.30H234.77M226.37 139.70H234.77" stroke="#ed1c24" stroke-width="1.2" fill="none"/>
<path d="M247.08 121.60V126.20M242.88 121.60H251.28M242.88 126.20H251.28" stroke="#ed1c24" stroke-width="1.2" fill="none"/>
<path d="M263.59 110.60V114.60M259.39 110.60H267.79M259.39 114.60H267.79" stroke="#ed1c24" stroke-width="1.2" fill="none"/>
<path d="M280.10 101.40V105.00M275.90 101.40H284.30M275.90 105.00H284.30" stroke="#ed1c24" stroke-width="1.2" fill="none"/>
<path d="M296.61 92.30V95.50M292.41 92.30H300.81M292.41 95.50H300.81" stroke="#ed1c24" stroke-width="1.2" fill="none"/>
<path d="M313.12 85.80V88.80M308.92 85.80H317.32M308.92 88.80H317.32" stroke="#ed1c24" stroke-width="1.2" fill="none"/>
<path d="M329.63 82.00V84.80M325.43 82.00H333.83M325.43 84.80H333.83" stroke="#ed1c24" stroke-width="1.2" fill="none"/>
<path d="M346.14 79.50V82.30M341.94 79.50H350.34M341.94 82.30H350.34" stroke="#ed1c24" stroke-width="1.2" fill="none"/>
<path d="M362.65 91.70V94.70M358.45 91.70H366.85M358.45 94.70H366.85" stroke="#ed1c24" stroke-width="1.2" fill="none"/>
<path d="M379.16 94.20V97.20M374.96 94.20H383.36M374.96 97.20H383.36" stroke="#ed1c24" stroke-width="1.2" fill="none"/>
<path d="M395.67 96.90V99.90M391.47 96.90H399.87M391.47 99.90H399.87" stroke="#ed1c24" stroke-width="1.2" fill="none"/>
<path d="M412.18 102.00V105.20M407.98 102.00H416.38M407.98 105.20H416.38" stroke="#ed1c24" stroke-width="1.2" fill="none"/>
<path d="M428.69 111.00V114.20M424.49 111.00H432.89M424.49 114.20H432.89" stroke="#ed1c24" stroke-width="1.2" fill="none"/>
<path d="M445.20 119.50V122.90M441.00 119.50H449.40M441.00 122.90H449.40" stroke="#ed1c24" stroke-width="1.2" fill="none"/>
<path d="M461.71 132.30V136.10M457.51 132.30H465.91M457.51 136.10H465.91" stroke="#ed1c24" stroke-width="1.2" fill="none"/>
<path d="M478.22 143.00V147.40M474.02 143.00H482.42M474.02 147.40H482.42" stroke="#ed1c24" stroke-width="1.2" fill="none"/>
<path d="M494.73 160.30V165.70M490.53 160.30H498.93M490.53 165.70H498.93" stroke="#ed1c24" stroke-width="1.2" fill="none"/>
<path d="M511.24 177.50V184.50M507.04 177.50H515.44M507.04 184.50H515.44" stroke="#ed1c24" stroke-width="1.2" fill="none"/>
<path d="M527.75 195.50V204.50M523.55 195.50H531.95M523.55 204.50H531.95" stroke="#ed1c24" stroke-width="1.2" fill="none"/>
<path d="M544.26 212.40V228.60M540.06 212.40H548.46M540.06 228.60H548.46" stroke="#ed1c24" stroke-width="1.2" fill="none"/>
<path d="M560.77 236.40V254.40M556.57 236.40H564.97M556.57 254.40H564.97" stroke="#ed1c24" stroke-width="1.2" fill="none"/>
<path d="M577.28 262.40V287.00M573.08 262.40H581.48M573.08 287.00H581.48" stroke="#ed1c24" stroke-width="1.2" fill="none"/>
<path d="M593.79 294.00V322.00M589.59 294.00H597.99M589.59 322.00H597.99" stroke="#ed1c24" stroke-width="1.2" fill="none"/>
<path d="M610.30 324.40V362.00M606.10 324.40H614.50M606.10 362.00H614.50" stroke="#ed1c24" stroke-width="1.2" fill="none"/>
<path d="M626.81 356.00V400.00M622.61 356.00H631.01M622.61 400.00H631.01" stroke="#ed1c24" stroke-width="1.2" fill="none"/>
<path d="M643.32 390.40V441.00M639.12 390.40H647.52M639.12 441.00H647.52" stroke="#ed1c24" stroke-width="1.2" fill="none"/>
<path d="M659.83 416.40V501.00M655.63 416.40H664.03M655.63 501.00H664.03" stroke="#ed1c24" stroke-width="1.2" fill="none"/>
<path d="M676.34 442.00V581.00M672.14 442.00H680.54M672.14 581.00H680.54" stroke="#ed1c24" stroke-width="1.2" fill="none"/>
<path d="M692.85 463.40V571.60M688.65 463.40H697.05M688.65 571.60H697.05" stroke="#ed1c24" stroke-width="1.2" fill="none"/>
<path d="M709.36 482.00V607.40M705.16 482.00H713.56M705.16 607.40H713.56" stroke="#ed1c24" stroke-width="1.2" fill="none"/>
<path d="M725.87 505.40V607.40M721.67 505.40H730.07M721.67 607.40H730.07" stroke="#ed1c24" stroke-width="1.2" fill="none"/>
<path d="M742.38 573.60V607.40M738.18 573.60H746.58M738.18 607.40H746.58" stroke="#ed1c24" stroke-width="1.2" fill="none"/>
<path d="M758.89 566.00V607.40M754.69 566.00H763.09M754.69 607.40H763.09" stroke="#ed1c24" stroke-width="1.2" fill="none"/>
<circle cx="115.00" cy="504.6" r="4.1" fill="#ed1c24"/>
<circle cx="131.51" cy="437.4" r="4.1" fill="#ed1c24"/>
<circle cx="148.02" cy="382.4" r="4.1" fill="#ed1c24"/>
<circle cx="164.53" cy="329.6" r="4.1" fill="#ed1c24"/>
<circle cx="181.04" cy="283.6" r="4.1" fill="#ed1c24"/>
<circle cx="197.55" cy="240.6" r="4.1" fill="#ed1c24"/>
<circle cx="214.06" cy="202.6" r="4.1" fill="#ed1c24"/>
<circle cx="230.57" cy="168.6" r="4.1" fill="#ed1c24"/>
<circle cx="247.08" cy="139.8" r="4.1" fill="#ed1c24"/>
<circle cx="263.59" cy="116.3" r="4.1" fill="#ed1c24"/>
<circle cx="280.10" cy="97" r="4.1" fill="#ed1c24"/>
<circle cx="296.61" cy="80.1" r="4.1" fill="#ed1c24"/>
<circle cx="313.12" cy="68.8" r="4.1" fill="#ed1c24"/>
<circle cx="329.63" cy="62.5" r="4.1" fill="#ed1c24"/>
<circle cx="346.14" cy="61.5" r="4.1" fill="#ed1c24"/>
<circle cx="362.65" cy="74.1" r="4.1" fill="#ed1c24"/>
<circle cx="379.16" cy="80.7" r="4.1" fill="#ed1c24"/>
<circle cx="395.67" cy="88.2" r="4.1" fill="#ed1c24"/>
<circle cx="412.18" cy="106.6" r="4.1" fill="#ed1c24"/>
<circle cx="428.69" cy="116" r="4.1" fill="#ed1c24"/>
<circle cx="445.20" cy="132.7" r="4.1" fill="#ed1c24"/>
<circle cx="461.71" cy="152.7" r="4.1" fill="#ed1c24"/>
<circle cx="478.22" cy="174" r="4.1" fill="#ed1c24"/>
<circle cx="494.73" cy="196.8" r="4.1" fill="#ed1c24"/>
<circle cx="511.24" cy="218.6" r="4.1" fill="#ed1c24"/>
<circle cx="527.75" cy="243" r="4.1" fill="#ed1c24"/>
<circle cx="544.26" cy="269" r="4.1" fill="#ed1c24"/>
<circle cx="560.77" cy="297.4" r="4.1" fill="#ed1c24"/>
<circle cx="577.28" cy="332.4" r="4.1" fill="#ed1c24"/>
<circle cx="593.79" cy="366.6" r="4.1" fill="#ed1c24"/>
<circle cx="610.30" cy="404" r="4.1" fill="#ed1c24"/>
<circle cx="626.81" cy="446" r="4.1" fill="#ed1c24"/>
<circle cx="643.32" cy="493" r="4.1" fill="#ed1c24"/>
<circle cx="659.83" cy="537.6" r="4.1" fill="#ed1c24"/>
<circle cx="676.34" cy="591.6" r="4.1" fill="#ed1c24"/>
<circle cx="115.00" cy="287.4" r="4.1" fill="none" stroke="#ed1c24" stroke-width="2.8"/>
<circle cx="131.51" cy="260.5" r="4.1" fill="none" stroke="#ed1c24" stroke-width="2.8"/>
<circle cx="148.02" cy="231" r="4.1" fill="none" stroke="#ed1c24" stroke-width="2.8"/>
<circle cx="164.53" cy="207.6" r="4.1" fill="none" stroke="#ed1c24" stroke-width="2.8"/>
<circle cx="181.04" cy="186.2" r="4.1" fill="none" stroke="#ed1c24" stroke-width="2.8"/>
<circle cx="197.55" cy="165" r="4.1" fill="none" stroke="#ed1c24" stroke-width="2.8"/>
<circle cx="214.06" cy="148.3" r="4.1" fill="none" stroke="#ed1c24" stroke-width="2.8"/>
<circle cx="230.57" cy="132" r="4.1" fill="none" stroke="#ed1c24" stroke-width="2.8"/>
<circle cx="247.08" cy="118.2" r="4.1" fill="none" stroke="#ed1c24" stroke-width="2.8"/>
<circle cx="263.59" cy="107" r="4.1" fill="none" stroke="#ed1c24" stroke-width="2.8"/>
<circle cx="280.10" cy="100" r="4.1" fill="none" stroke="#ed1c24" stroke-width="2.8"/>
<circle cx="296.61" cy="90.1" r="4.1" fill="none" stroke="#ed1c24" stroke-width="2.8"/>
<circle cx="313.12" cy="87" r="4.1" fill="none" stroke="#ed1c24" stroke-width="2.8"/>
<circle cx="329.63" cy="83.2" r="4.1" fill="none" stroke="#ed1c24" stroke-width="2.8"/>
<circle cx="346.14" cy="80.7" r="4.1" fill="none" stroke="#ed1c24" stroke-width="2.8"/>
<circle cx="362.65" cy="93" r="4.1" fill="none" stroke="#ed1c24" stroke-width="2.8"/>
<circle cx="379.16" cy="95.5" r="4.1" fill="none" stroke="#ed1c24" stroke-width="2.8"/>
<circle cx="395.67" cy="98.2" r="4.1" fill="none" stroke="#ed1c24" stroke-width="2.8"/>
<circle cx="412.18" cy="102.8" r="4.1" fill="none" stroke="#ed1c24" stroke-width="2.8"/>
<circle cx="428.69" cy="111.8" r="4.1" fill="none" stroke="#ed1c24" stroke-width="2.8"/>
<circle cx="445.20" cy="121.4" r="4.1" fill="none" stroke="#ed1c24" stroke-width="2.8"/>
<circle cx="461.71" cy="134.5" r="4.1" fill="none" stroke="#ed1c24" stroke-width="2.8"/>
<circle cx="478.22" cy="150.2" r="4.1" fill="none" stroke="#ed1c24" stroke-width="2.8"/>
<circle cx="494.73" cy="169" r="4.1" fill="none" stroke="#ed1c24" stroke-width="2.8"/>
<circle cx="511.24" cy="189" r="4.1" fill="none" stroke="#ed1c24" stroke-width="2.8"/>
<circle cx="527.75" cy="212" r="4.1" fill="none" stroke="#ed1c24" stroke-width="2.8"/>
<circle cx="544.26" cy="238" r="4.1" fill="none" stroke="#ed1c24" stroke-width="2.8"/>
<circle cx="560.77" cy="266" r="4.1" fill="none" stroke="#ed1c24" stroke-width="2.8"/>
<circle cx="577.28" cy="303" r="4.1" fill="none" stroke="#ed1c24" stroke-width="2.8"/>
<circle cx="593.79" cy="340.6" r="4.1" fill="none" stroke="#ed1c24" stroke-width="2.8"/>
<circle cx="610.30" cy="378" r="4.1" fill="none" stroke="#ed1c24" stroke-width="2.8"/>
<circle cx="626.81" cy="411" r="4.1" fill="none" stroke="#ed1c24" stroke-width="2.8"/>
<circle cx="643.32" cy="440" r="4.1" fill="none" stroke="#ed1c24" stroke-width="2.8"/>
<circle cx="659.83" cy="472.6" r="4.1" fill="none" stroke="#ed1c24" stroke-width="2.8"/>
<circle cx="676.34" cy="502" r="4.1" fill="none" stroke="#ed1c24" stroke-width="2.8"/>
<circle cx="692.85" cy="527.6" r="4.1" fill="none" stroke="#ed1c24" stroke-width="2.8"/>
<circle cx="709.36" cy="564" r="4.1" fill="none" stroke="#ed1c24" stroke-width="2.8"/>
<circle cx="725.87" cy="595.6" r="4.1" fill="none" stroke="#ed1c24" stroke-width="2.8"/>
<circle cx="115.00" cy="273" r="3.9" fill="none" stroke="#ed1c24" stroke-width="1.2"/>
<circle cx="131.51" cy="249" r="3.9" fill="none" stroke="#ed1c24" stroke-width="1.2"/>
<circle cx="148.02" cy="229.5" r="3.9" fill="none" stroke="#ed1c24" stroke-width="1.2"/>
<circle cx="164.53" cy="207.2" r="3.9" fill="none" stroke="#ed1c24" stroke-width="1.2"/>
<circle cx="181.04" cy="186" r="3.9" fill="none" stroke="#ed1c24" stroke-width="1.2"/>
<circle cx="197.55" cy="167" r="3.9" fill="none" stroke="#ed1c24" stroke-width="1.2"/>
<circle cx="214.06" cy="152" r="3.9" fill="none" stroke="#ed1c24" stroke-width="1.2"/>
<circle cx="230.57" cy="137" r="3.9" fill="none" stroke="#ed1c24" stroke-width="1.2"/>
<circle cx="247.08" cy="123.9" r="3.9" fill="none" stroke="#ed1c24" stroke-width="1.2"/>
<circle cx="263.59" cy="112.6" r="3.9" fill="none" stroke="#ed1c24" stroke-width="1.2"/>
<circle cx="280.10" cy="103.2" r="3.9" fill="none" stroke="#ed1c24" stroke-width="1.2"/>
<circle cx="296.61" cy="93.9" r="3.9" fill="none" stroke="#ed1c24" stroke-width="1.2"/>
<circle cx="313.12" cy="87.3" r="3.9" fill="none" stroke="#ed1c24" stroke-width="1.2"/>
<circle cx="329.63" cy="83.4" r="3.9" fill="none" stroke="#ed1c24" stroke-width="1.2"/>
<circle cx="346.14" cy="80.9" r="3.9" fill="none" stroke="#ed1c24" stroke-width="1.2"/>
<circle cx="362.65" cy="93.2" r="3.9" fill="none" stroke="#ed1c24" stroke-width="1.2"/>
<circle cx="379.16" cy="95.7" r="3.9" fill="none" stroke="#ed1c24" stroke-width="1.2"/>
<circle cx="395.67" cy="98.4" r="3.9" fill="none" stroke="#ed1c24" stroke-width="1.2"/>
<circle cx="412.18" cy="103.6" r="3.9" fill="none" stroke="#ed1c24" stroke-width="1.2"/>
<circle cx="428.69" cy="112.6" r="3.9" fill="none" stroke="#ed1c24" stroke-width="1.2"/>
<circle cx="445.20" cy="121.2" r="3.9" fill="none" stroke="#ed1c24" stroke-width="1.2"/>
<circle cx="461.71" cy="134.2" r="3.9" fill="none" stroke="#ed1c24" stroke-width="1.2"/>
<circle cx="478.22" cy="145.2" r="3.9" fill="none" stroke="#ed1c24" stroke-width="1.2"/>
<circle cx="494.73" cy="163" r="3.9" fill="none" stroke="#ed1c24" stroke-width="1.2"/>
<circle cx="511.24" cy="181" r="3.9" fill="none" stroke="#ed1c24" stroke-width="1.2"/>
<circle cx="527.75" cy="200" r="3.9" fill="none" stroke="#ed1c24" stroke-width="1.2"/>
<circle cx="544.26" cy="220" r="3.9" fill="none" stroke="#ed1c24" stroke-width="1.2"/>
<circle cx="560.77" cy="245" r="3.9" fill="none" stroke="#ed1c24" stroke-width="1.2"/>
<circle cx="577.28" cy="273.6" r="3.9" fill="none" stroke="#ed1c24" stroke-width="1.2"/>
<circle cx="593.79" cy="307" r="3.9" fill="none" stroke="#ed1c24" stroke-width="1.2"/>
<circle cx="610.30" cy="340.4" r="3.9" fill="none" stroke="#ed1c24" stroke-width="1.2"/>
<circle cx="626.81" cy="374" r="3.9" fill="none" stroke="#ed1c24" stroke-width="1.2"/>
<circle cx="643.32" cy="411.6" r="3.9" fill="none" stroke="#ed1c24" stroke-width="1.2"/>
<circle cx="659.83" cy="446" r="3.9" fill="none" stroke="#ed1c24" stroke-width="1.2"/>
<circle cx="676.34" cy="477.6" r="3.9" fill="none" stroke="#ed1c24" stroke-width="1.2"/>
<circle cx="692.85" cy="522" r="3.9" fill="none" stroke="#ed1c24" stroke-width="1.2"/>
<circle cx="709.36" cy="548.6" r="3.9" fill="none" stroke="#ed1c24" stroke-width="1.2"/>
<circle cx="725.87" cy="562" r="3.9" fill="none" stroke="#ed1c24" stroke-width="1.2"/>
<path d="M362.8 189.1V22.2" stroke="#1a1a1a" stroke-width="1.4" stroke-dasharray="7.5 7.6" fill="none"/>
</g>
<text transform="translate(99.5 59.3) scale(1 1.045)" font-size="26.6" text-anchor="end" fill="#000" stroke="#000" stroke-width="0.3">10<tspan font-size="16" dy="-12.1" dx="1.0">-2</tspan></text>
<text transform="translate(99.5 198.65) scale(1 1.045)" font-size="26.6" text-anchor="end" fill="#000" stroke="#000" stroke-width="0.3">10<tspan font-size="16" dy="-12.1" dx="1.0">-3</tspan></text>
<text transform="translate(99.5 338.0) scale(1 1.045)" font-size="26.6" text-anchor="end" fill="#000" stroke="#000" stroke-width="0.3">10<tspan font-size="16" dy="-12.1" dx="1.0">-4</tspan></text>
<text transform="translate(99.5 477.34999999999997) scale(1 1.045)" font-size="26.6" text-anchor="end" fill="#000" stroke="#000" stroke-width="0.3">10<tspan font-size="16" dy="-12.1" dx="1.0">-5</tspan></text>
<text transform="translate(99.5 607.4) scale(1 1.045)" font-size="26.6" text-anchor="end" fill="#000" stroke="#000" stroke-width="0.3">10<tspan font-size="16" dy="-12.1" dx="1.0">-6</tspan></text>
<text transform="translate(239.6 641.1) scale(1 1.045)" font-size="26.6" text-anchor="middle" fill="#000" stroke="#000" stroke-width="0.3">10<tspan font-size="16" dy="-12.1" dx="1.4">10</tspan></text>
<text transform="translate(404.67 641.1) scale(1 1.045)" font-size="26.6" text-anchor="middle" fill="#000" stroke="#000" stroke-width="0.3">10<tspan font-size="16" dy="-12.1" dx="1.4">11</tspan></text>
<text transform="translate(569.74 641.1) scale(1 1.045)" font-size="26.6" text-anchor="middle" fill="#000" stroke="#000" stroke-width="0.3">10<tspan font-size="16" dy="-12.1" dx="1.4">12</tspan></text>
<text transform="translate(734.8100000000001 641.1) scale(1 1.045)" font-size="26.6" text-anchor="middle" fill="#000" stroke="#000" stroke-width="0.3">10<tspan font-size="16" dy="-12.1" dx="1.4">13</tspan></text>
<text transform="translate(429.1 670.7) scale(1 1.045)" font-size="26.6" fill="#000" stroke="#000" stroke-width="0.3">L</text>
<text transform="translate(452.7 670.7) scale(1 1.045)" font-size="26.6" fill="#000" stroke="#000" stroke-width="0.3">[L</text>
<text transform="translate(485.2 670.7) scale(1 1.045)" font-size="26.6" fill="#000" stroke="#000" stroke-width="0.3">]</text>
<circle cx="481.5" cy="671" r="5.65" fill="none" stroke="#000" stroke-width="1.3"/><circle cx="481.5" cy="671" r="2.1" fill="#000"/>
<text transform="translate(32.8 421.8) rotate(-90) scale(1.27 1.03)" font-size="26.6" fill="#000" font-family="'Liberation Serif',serif">ϕ</text>
<text transform="translate(32.8 405.4) rotate(-90) scale(1 1.045)" font-size="26.6" fill="#000" stroke="#000" stroke-width="0.3">(L) [dex<tspan font-size="17" dy="-10.2" dx="0.6">-1</tspan><tspan dy="10.2" dx="0.8"> Mpc</tspan><tspan font-size="17" dy="-10.2" dx="0.6">-3</tspan><tspan dy="10.2" dx="0.8">]</tspan></text>
<circle cx="177.8" cy="494.5" r="5.6" fill="#2e3192"/>
<text transform="translate(194.8 501.1) scale(1 1.05)" font-size="20.75" fill="#2e3192" stroke="#2e3192" stroke-width="0.2">UV selection</text>
<circle cx="177.8" cy="520.8" r="5.6" fill="#ed1c24"/>
<text transform="translate(194.8 527.4) scale(1 1.05)" font-size="20.75" fill="#ed1c24" stroke="#ed1c24" stroke-width="0.2">TIR LF of UV (<tspan font-family="'Liberation Serif',serif" textLength="12.6" lengthAdjust="spacingAndGlyphs">σ</tspan><tspan font-size="12.5" dy="5" font-family="'Liberation Sans',sans-serif">c</tspan><tspan dy="-5">)</tspan></text>
<circle cx="177.8" cy="547.1" r="5.2" fill="none" stroke="#ed1c24" stroke-width="3.2"/>
<text transform="translate(194.8 553.7) scale(1 1.05)" font-size="20.75" fill="#ed1c24" stroke="#ed1c24" stroke-width="0.2">TIR LF of UV (<tspan font-family="'Liberation Serif',serif" textLength="12.6" lengthAdjust="spacingAndGlyphs">σ</tspan><tspan font-size="12.5" dy="5" font-family="'Liberation Sans',sans-serif">d</tspan><tspan dy="-5">)</tspan></text>
<circle cx="177.8" cy="573.7" r="5.4" fill="none" stroke="#ed1c24" stroke-width="1.3"/>
<text transform="translate(194.8 580.3000000000001) scale(1 1.05)" font-size="20.75" fill="#ed1c24" stroke="#ed1c24" stroke-width="0.2">TIR LF of UV (<tspan font-family="'Liberation Serif',serif" textLength="12.6" lengthAdjust="spacingAndGlyphs">σ</tspan><tspan font-size="12.5" dy="5" font-family="'Liberation Serif',serif">β</tspan><tspan dy="-5">)</tspan></text>
<text transform="translate(757.2 75.7) scale(1 1.045)" font-size="21.45" text-anchor="end" fill="#b56aa4" stroke="#b56aa4" stroke-width="0.15">Gruppioni+2010</text>
<text transform="translate(757.2 101.6) scale(1 1.045)" font-size="21.45" text-anchor="end" fill="#f26522" stroke="#f26522" stroke-width="0.15">Rodighiero+2010</text>
<text transform="translate(755.6 128) scale(1 1.045)" font-size="21.45" text-anchor="end" fill="#8e561a" stroke="#8e561a" stroke-width="0.15">Magnelli+2011</text>
<polygon points="775.00,60.30 783.27,66.31 780.11,76.04 769.89,76.04 766.73,66.31" fill="none" stroke="#b56aa4" stroke-width="1.9" stroke-linejoin="miter"/>
<polygon points="774.70,86.90 782.15,99.80 767.25,99.80" fill="none" stroke="#f26522" stroke-width="1.9"/>
<rect x="769.05" y="115.85" width="11.7" height="11.7" fill="none" stroke="#8e561a" stroke-width="2.0"/>
</svg>
</body></html>
